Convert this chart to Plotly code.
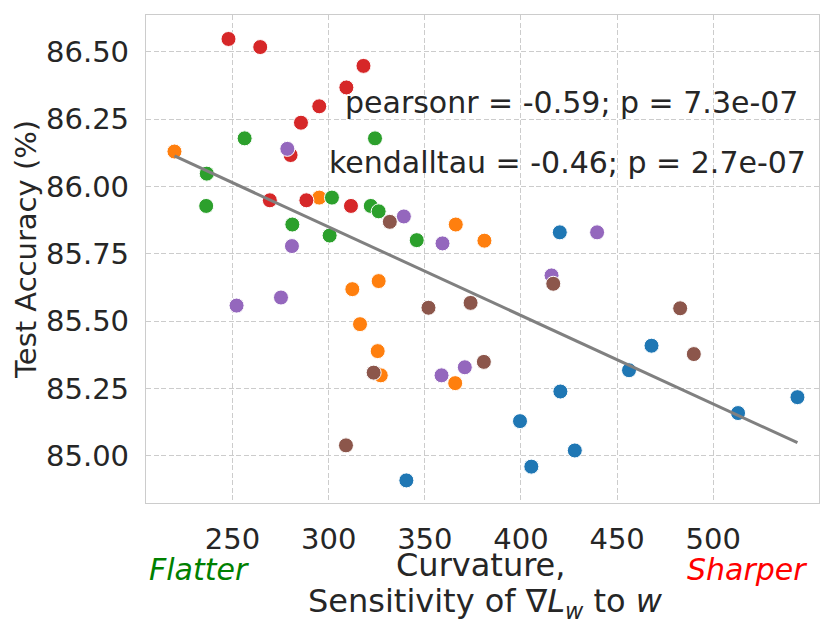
import numpy as np
import plotly.graph_objects as go

# ---- data ----
blue_x = [420.2, 456.2, 420.5, 399.5, 405.4, 428.0, 340.4, 467.9, 512.9, 543.8]
blue_y = [85.830, 85.318, 85.239, 85.129, 84.960, 85.020, 84.909, 85.409, 85.159, 85.218]

orange_x = [219.8, 295.1, 366.1, 381.0, 312.3, 326.0, 316.3, 325.5, 327.1, 365.8]
orange_y = [86.130, 85.959, 85.859, 85.799, 85.619, 85.649, 85.489, 85.389, 85.299, 85.270]

green_x = [256.3, 324.1, 236.6, 236.3, 301.7, 321.9, 326.0, 281.1, 300.5, 345.8]
green_y = [86.179, 86.179, 86.048, 85.928, 85.959, 85.928, 85.908, 85.859, 85.818, 85.801]

red_x = [247.9, 264.4, 318.1, 309.2, 295.1, 285.6, 280.2, 269.4, 288.4, 311.6]
red_y = [86.548, 86.518, 86.448, 86.368, 86.298, 86.237, 86.117, 85.949, 85.949, 85.928]

purple_x = [278.5, 339.1, 280.9, 359.2, 439.6, 415.9, 358.7, 370.8, 252.1, 275.2]
purple_y = [86.140, 85.889, 85.779, 85.789, 85.830, 85.670, 85.299, 85.329, 85.558, 85.588]

brown_x = [331.8, 416.8, 351.9, 373.8, 323.4, 380.7, 309.0, 482.8, 489.9]
brown_y = [85.869, 85.639, 85.550, 85.568, 85.309, 85.349, 85.039, 85.548, 85.378]

x_ticks = [250, 300, 350, 400, 450, 500]
y_ticks = [85.00, 85.25, 85.50, 85.75, 86.00, 86.25, 86.50]

pearson_text = "pearsonr = -0.59; p = 7.3e-07"
kendall_text = "kendalltau = -0.46; p = 2.7e-07"
x_title_1 = "Curvature,"
x_title_2 = "Sensitivity of ∇<i>L</i><sub><i>w</i></sub> to <i>w</i>"
y_title = "Test Accuracy (%)"

groups = [
    (blue_x, blue_y, "#1f77b4"),
    (orange_x, orange_y, "#ff7f0e"),
    (green_x, green_y, "#2ca02c"),
    (red_x, red_y, "#d62728"),
    (purple_x, purple_y, "#9467bd"),
    (brown_x, brown_y, "#8c564b"),
]

FONT = "DejaVu Sans"
TXT = "#262626"
OFF = 8  # page body margin in the browser
W, H = 831 - OFF, 631 - OFF
L, R, T, B = 146 - OFF, 12, 15 - OFF, 128
PW, PH = W - L - R, H - T - B


def px_x(p):
    return (p - OFF - L) / PW


def px_y(p):
    return (H - B - (p - OFF)) / PH


fig = go.Figure()
for xs, ys, c in groups:
    fig.add_trace(go.Scatter(
        x=xs, y=ys, mode="markers",
        marker=dict(size=15, color=c, line=dict(color="white", width=1)),
        showlegend=False, hoverinfo="skip"))

all_x = np.concatenate([np.array(g[0]) for g in groups])
all_y = np.concatenate([np.array(g[1]) for g in groups])
slope, intercept = np.polyfit(all_x, all_y, 1)
lx = np.array([all_x.min(), all_x.max()])
fig.add_trace(go.Scatter(
    x=lx, y=slope * lx + intercept, mode="lines",
    line=dict(color="#808080", width=3), showlegend=False, hoverinfo="skip"))

axis_common = dict(
    showgrid=True, gridcolor="#cccccc", griddash="5px,2.5px", gridwidth=1.1,
    zeroline=False, showline=True, linecolor="#cccccc", linewidth=1.3, mirror=True,
    ticks="outside", tickcolor="rgba(0,0,0,0)", ticklen=10,
    tickfont=dict(family=FONT, size=29, color=TXT),
)

fig.update_xaxes(range=[205, 555], tickvals=x_ticks, ticktext=[str(v) for v in x_ticks],
                 **axis_common)
fig.update_yaxes(range=[84.825, 86.637], tickvals=y_ticks,
                 ticktext=[f"{v:.2f}" for v in y_ticks], **axis_common)

ann = [
    dict(text=pearson_text, x=px_x(800), y=px_y(102), xanchor="right", yanchor="middle",
         font=dict(size=30)),
    dict(text=kendall_text, x=px_x(808), y=px_y(162), xanchor="right", yanchor="middle",
         font=dict(size=30)),
    dict(text=y_title, x=px_x(26), y=px_y(250), textangle=-90,
         xanchor="center", yanchor="middle", font=dict(size=29)),
    dict(text=x_title_1, x=px_x(480), y=px_y(565), xanchor="center", yanchor="middle",
         font=dict(size=32)),
    dict(text=x_title_2, x=px_x(485), y=px_y(603), xanchor="center", yanchor="middle",
         font=dict(size=32)),
    dict(text="<i>Flatter</i>", x=px_x(147), y=px_y(569), xanchor="left", yanchor="middle",
         font=dict(size=30, color="green")),
    dict(text="<i>Sharper</i>", x=px_x(809), y=px_y(569), xanchor="right", yanchor="middle",
         font=dict(size=30, color="red")),
]
for a in ann:
    a.update(xref="paper", yref="paper", showarrow=False)
    a["font"].setdefault("color", TXT)
    a["font"]["family"] = FONT
fig.update_layout(annotations=ann)

fig.update_layout(
    width=W, height=H,
    margin=dict(l=L, r=R, t=T, b=B),
    plot_bgcolor="white", paper_bgcolor="white",
    font=dict(family=FONT, color=TXT),
)

fig.write_html("out.html")
